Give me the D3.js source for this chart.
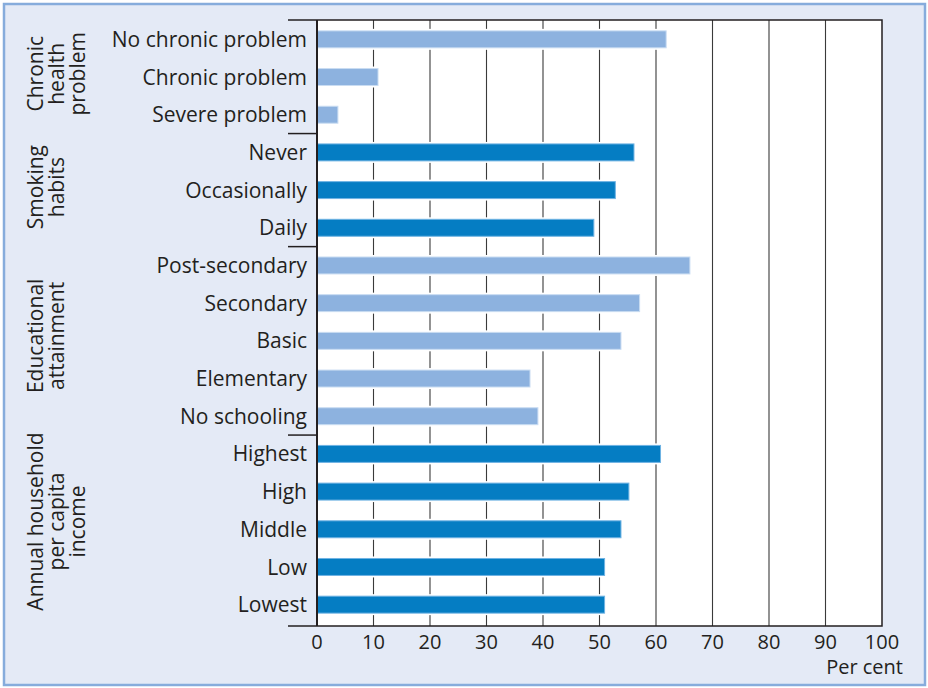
<!DOCTYPE html>
<html><head><meta charset="utf-8">
<script src="https://cdn.jsdelivr.net/npm/d3@7"></script>
<style>html,body{margin:0;padding:0;background:#fff}svg{display:block}text{font-family:"Open Sans",sans-serif;fill:#231f20}</style>
</head><body>
<svg id="c" width="928" height="688"></svg>
<script>
// ---- data ----
const groups = [
  {name: ["Chronic", "health", "problem"], shade: "light"},
  {name: ["Smoking", "habits"], shade: "dark"},
  {name: ["Educational", "attainment"], shade: "light"},
  {name: ["Annual household", "per capita", "income"], shade: "dark"}
];
const categories = [
  "No chronic problem","Chronic problem","Severe problem",
  "Never","Occasionally","Daily",
  "Post-secondary","Secondary","Basic","Elementary","No schooling",
  "Highest","High","Middle","Low","Lowest"
];
const categoryGroup = [0,0,0, 1,1,1, 2,2,2,2,2, 3,3,3,3,3];
const values = [61.8,10.8,3.7, 56.1,52.8,49.0, 66.0,57.1,53.8,37.7,39.1, 60.8,55.2,53.8,50.9,50.9];
const xTicks = [0,10,20,30,40,50,60,70,80,90,100];
const xUnit = "Per cent";

// ---- layout ----
const svg = d3.select("#c");
const colors = {light: "#8db2df", dark: "#057dc3"};
const edge = {light: "#c9dcf2", dark: "#6fb3e3"};
const L = 317, R = 882, T = 20, B = 626;

svg.append("rect").attr("x",4).attr("y",4).attr("width",921).attr("height",681)
  .attr("fill","#e4eaf6").attr("stroke","#86acdc").attr("stroke-width",2.5);

const x = d3.scaleLinear().domain([0,100]).range([L,R]);
const y = d3.scaleBand().domain(categories).range([T+0.5, B-2.5]).paddingInner(0.55).paddingOuter(0.275);

svg.append("rect").attr("x",L).attr("y",T).attr("width",R-L).attr("height",B-T).attr("fill","#fff");

// gridlines
svg.append("g").selectAll("line").data(xTicks.slice(1,-1)).join("line")
  .attr("x1",d=>x(d)).attr("x2",d=>x(d)).attr("y1",T).attr("y2",B)
  .attr("stroke","#3a3a3a").attr("stroke-width",1.1);

// bars with white halo
const bars = svg.append("g");
bars.selectAll("rect.halo").data(categories).join("rect").attr("class","halo")
  .attr("x",L+1).attr("y",d=>y(d)-2).attr("height",y.bandwidth()+4)
  .attr("width",(d,i)=>x(values[i])-L+1).attr("fill","#fff");
bars.selectAll("rect.bar").data(categories).join("rect").attr("class","bar")
  .attr("x",L+0.5).attr("y",d=>y(d)).attr("height",y.bandwidth())
  .attr("width",(d,i)=>x(values[i])-L-0.5)
  .attr("fill",(d,i)=>colors[groups[categoryGroup[i]].shade])
  .attr("stroke",(d,i)=>edge[groups[categoryGroup[i]].shade]).attr("stroke-width",1);

// frame
svg.append("path").attr("d",`M${L},${T}H${R}V${B}H${L}`).attr("fill","none")
  .attr("stroke","#231f20").attr("stroke-width",1.5);
svg.append("line").attr("x1",L).attr("x2",L).attr("y1",T).attr("y2",B)
  .attr("stroke","#231f20").attr("stroke-width",2);

// group separators
const step = y.step();
const bounds = [];
groups.forEach((g,gi)=>{
  const idx = categoryGroup.map((v,i)=>v===gi?i:-1).filter(i=>i>=0);
  const top = gi===0 ? T : y(categories[idx[0]]) - (step - y.bandwidth())/2;
  const bot = gi===groups.length-1 ? B : y(categories[idx[idx.length-1]]) + y.bandwidth() + (step - y.bandwidth())/2;
  bounds.push([top,bot]);
});
const seps = [T, ...bounds.slice(0,-1).map(b=>b[1]), B];
svg.append("g").selectAll("line").data(seps).join("line")
  .attr("x1",288).attr("x2",L).attr("y1",d=>d).attr("y2",d=>d)
  .attr("stroke","#231f20").attr("stroke-width",1.5);

// category labels
svg.append("g").selectAll("text").data(categories).join("text")
  .attr("x",307).attr("y",d=>y(d)+y.bandwidth()/2).attr("dy","0.36em")
  .attr("text-anchor","end").attr("font-size",21).text(d=>d);

// group labels
const nudge = [-3,-3,-5,-9];
groups.forEach((g,gi)=>{
  const cy = (bounds[gi][0]+bounds[gi][1])/2 + nudge[gi];
  const t = svg.append("text").attr("transform",`translate(43,${cy}) rotate(-90)`)
    .attr("text-anchor","middle").attr("font-size",21);
  g.name.forEach((ln,li)=>t.append("tspan").attr("x",0).attr("y",li*21).text(ln));
});

// x tick labels
svg.append("g").selectAll("text").data(xTicks).join("text")
  .attr("x",d=>x(d)).attr("y",649).attr("text-anchor","middle").attr("font-size",20).text(d=>d);
svg.append("text").attr("x",903).attr("y",674).attr("text-anchor","end").attr("font-size",20).text(xUnit);
</script>
</body></html>
